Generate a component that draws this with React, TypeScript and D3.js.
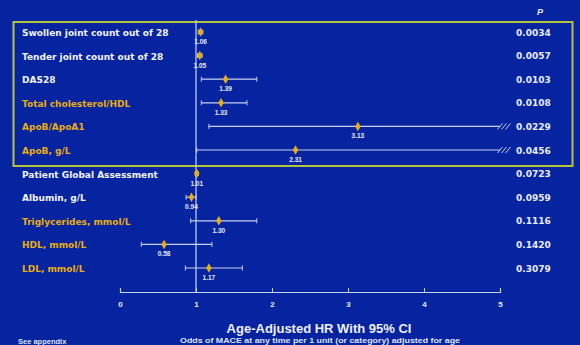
import React, { useRef, useEffect } from "react";
import * as d3 from "d3";

const labels = [
  "Swollen joint count out of 28",
  "Tender joint count out of 28",
  "DAS28",
  "Total cholesterol/HDL",
  "ApoB/ApoA1",
  "ApoB, g/L",
  "Patient Global Assessment",
  "Albumin, g/L",
  "Triglycerides, mmol/L",
  "HDL, mmol/L",
  "LDL, mmol/L",
];
const gold = [false, false, false, true, true, true, false, false, true, true, true];
const hr = [1.06, 1.05, 1.39, 1.33, 3.13, 2.31, 1.01, 0.94, 1.3, 0.58, 1.17];
const hrText = ["1.06", "1.05", "1.39", "1.33", "3.13", "2.31", "1.01", "0.94", "1.30", "0.58", "1.17"];
const lower = [1.03, 1.02, 1.07, 1.07, 1.17, 1.01, 0.99, 0.87, 0.93, 0.28, 0.86];
const upper = [1.09, 1.08, 1.8, 1.67, 9.5, 5.8, 1.03, 1.0, 1.8, 1.21, 1.61];
const pValues = ["0.0034", "0.0057", "0.0103", "0.0108", "0.0229", "0.0456", "0.0723", "0.0959", "0.1116", "0.1420", "0.3079"];
const ticks = [0, 1, 2, 3, 4, 5];

const BG = "#0623a0";
const GOLD = "#e6ae12";
const LINE = "#c9d0f2";

const Forest: React.FC = () => {
  const ref = useRef<SVGSVGElement | null>(null);

  useEffect(() => {
    const svg = d3.select(ref.current);
    svg.selectAll("*").remove();
    const font = "'Liberation Sans', Arial, sans-serif";
    const wide = "'DejaVu Sans', Verdana, sans-serif";

    svg.append("rect").attr("width", 580).attr("height", 345).attr("fill", BG);

    const x = d3.scaleLinear().domain([0, 5]).range([120, 500]);
    const y = d3.scalePoint<string>().domain(labels).range([32, 268]);
    const idx = (d: string) => labels.indexOf(d);
    const xmax = 5;

    // highlight box
    svg
      .append("rect")
      .attr("x", 13.5)
      .attr("y", 22)
      .attr("width", 559)
      .attr("height", 144)
      .attr("fill", "none")
      .attr("stroke", "#b8c23c")
      .attr("stroke-width", 2);

    // reference line at HR=1
    svg
      .append("line")
      .attr("x1", x(1))
      .attr("x2", x(1))
      .attr("y1", 20)
      .attr("y2", 292)
      .attr("stroke", LINE)
      .attr("stroke-width", 1.2);

    // axis
    const axis = svg
      .append("g")
      .attr("transform", "translate(0,292)")
      .call(d3.axisBottom(x).tickValues(ticks).tickFormat(d3.format("d")).tickSizeInner(-4).tickSizeOuter(-4).tickPadding(9));
    axis.select(".domain").attr("stroke", LINE).attr("stroke-width", 1.2);
    axis.selectAll(".tick line").attr("stroke", LINE);
    axis
      .selectAll(".tick text")
      .attr("fill", "#e8ecff")
      .attr("font-family", font)
      .attr("font-weight", "bold")
      .attr("font-size", 8);

    // row labels
    svg
      .append("g")
      .selectAll("text")
      .data(labels)
      .join("text")
      .attr("x", 22)
      .attr("y", (d) => (y(d) ?? 0) + 4)
      .attr("fill", (d) => (gold[idx(d)] ? GOLD : "#f2f4ff"))
      .attr("font-family", wide)
      .attr("font-weight", "bold")
      .attr("font-size", 9)
      .text((d) => d);

    const rows = svg
      .append("g")
      .selectAll("g")
      .data(labels)
      .join("g")
      .attr("transform", (d) => `translate(0,${y(d)})`);

    rows
      .append("line")
      .attr("x1", (d) => x(lower[idx(d)]))
      .attr("x2", (d) => x(Math.min(upper[idx(d)], xmax)))
      .attr("stroke", LINE)
      .attr("stroke-width", 1.2);
    rows
      .append("line")
      .attr("x1", (d) => x(lower[idx(d)]))
      .attr("x2", (d) => x(lower[idx(d)]))
      .attr("y1", -2.5)
      .attr("y2", 2.5)
      .attr("stroke", LINE);
    rows
      .filter((d) => upper[idx(d)] <= xmax)
      .append("line")
      .attr("x1", (d) => x(upper[idx(d)]))
      .attr("x2", (d) => x(upper[idx(d)]))
      .attr("y1", -2.5)
      .attr("y2", 2.5)
      .attr("stroke", LINE);

    // break marks for truncated intervals
    const brk = rows
      .filter((d) => upper[idx(d)] > xmax)
      .append("g")
      .attr("transform", `translate(${x(xmax) + 3},0)`);
    [-3, 1, 5].forEach((dx) => {
      brk
        .append("line")
        .attr("x1", dx - 2.5)
        .attr("x2", dx + 2.5)
        .attr("y1", 3)
        .attr("y2", -3)
        .attr("stroke", LINE)
        .attr("stroke-width", 1);
    });

    // markers
    rows
      .append("path")
      .attr("transform", (d) => `translate(${x(hr[idx(d)])},0)`)
      .attr("d", d3.symbol(d3.symbolDiamond, 26)())
      .attr("fill", GOLD);

    rows
      .append("text")
      .attr("x", (d) => x(hr[idx(d)]))
      .attr("y", 12)
      .attr("text-anchor", "middle")
      .attr("fill", "#e8ecff")
      .attr("font-family", font)
      .attr("font-weight", "bold")
      .attr("font-size", 6.5)
      .text((d) => hrText[idx(d)]);

    rows
      .append("text")
      .attr("x", 516)
      .attr("y", 3.5)
      .attr("fill", "#e8ecff")
      .attr("font-family", wide)
      .attr("font-weight", "bold")
      .attr("font-size", 9)
      .text((d) => pValues[idx(d)]);

    svg
      .append("text")
      .attr("x", 537)
      .attr("y", 15)
      .attr("fill", "#e8ecff")
      .attr("font-family", font)
      .attr("font-weight", "bold")
      .attr("font-style", "italic")
      .attr("font-size", 9)
      .text("P");

    svg
      .append("text")
      .attr("x", 319)
      .attr("y", 333)
      .attr("text-anchor", "middle")
      .attr("fill", "#eef0ff")
      .attr("font-family", font)
      .attr("font-weight", "bold")
      .attr("font-size", 13)
      .text("Age-Adjusted HR With 95% CI");

    svg
      .append("text")
      .attr("x", 180)
      .attr("y", 343)
      .attr("fill", "#dfe4ff")
      .attr("font-family", font)
      .attr("font-weight", "bold")
      .attr("font-size", 6.5)
      .attr("textLength", 280)
      .attr("lengthAdjust", "spacingAndGlyphs")
      .text("Odds of MACE at any time per 1 unit (or category) adjusted for age");

    svg
      .append("text")
      .attr("x", 18)
      .attr("y", 344)
      .attr("fill", "#dfe4ff")
      .attr("font-family", font)
      .attr("font-weight", "bold")
      .attr("font-size", 7.5)
      .text("See appendix");
  }, []);

  return <svg ref={ref} width={580} height={345} style={{ display: "block" }} />;
};

export default function App() {
  return (
    <div style={{ position: "fixed", left: 0, top: 0 }}>
      <Forest />
    </div>
  );
}
